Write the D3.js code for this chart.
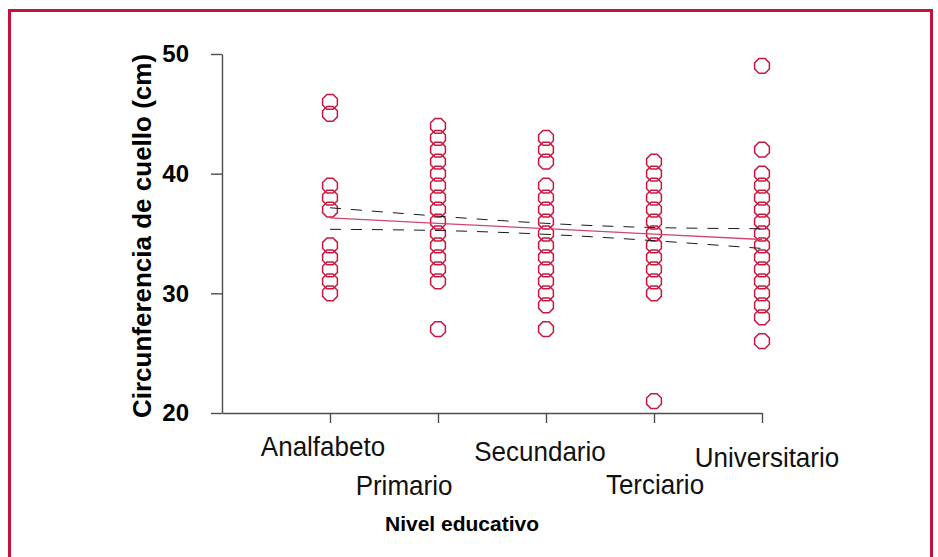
<!DOCTYPE html>
<html>
<head>
<meta charset="utf-8">
<script src="https://cdn.jsdelivr.net/npm/d3@7"></script>
<style>
  html, body { margin: 0; padding: 0; background: #fff; }
  svg { display: block; font-family: "Liberation Sans", Arial, sans-serif; }
</style>
</head>
<body>
<svg id="chart" width="938" height="557"></svg>
<script>
// Education level categories (x axis)
const categories = ["Analfabeto", "Primario", "Secundario", "Terciario", "Universitario"];

// Neck circumference observations (cm) per education level
const analfabeto = [46, 45, 39, 38, 37, 34, 33, 32, 31, 30];
const primario = [44, 43, 42, 41, 40, 39, 38, 37, 36, 35, 34, 33, 32, 31, 27];
const secundario = [43, 42, 41, 39, 38, 37, 36, 35, 34, 33, 32, 31, 30, 29, 27];
const terciario = [41, 40, 39, 38, 37, 36, 35, 34, 33, 32, 31, 30, 21];
const universitario = [49, 42, 40, 39, 38, 37, 36, 35, 34, 33, 32, 31, 30, 29, 28, 26];

// Fitted linear trend and its confidence limits at each level
const fitLine = [36.3, 35.85, 35.4, 34.95, 34.5];
const ciUpper = [37.15, 36.45, 35.85, 35.5, 35.4];
const ciLower = [35.35, 35.25, 34.93, 34.4, 33.75];

// Y axis ticks
const yTicks = [20, 30, 40, 50];

const seriesByLevel = [analfabeto, primario, secundario, terciario, universitario];

// Horizontal nudges for the staggered category labels and their baselines
const labelLayout = [
  { dx: -7, y: 456 },
  { dx: -34, y: 495 },
  { dx: -6, y: 461 },
  { dx: 1, y: 494 },
  { dx: 5, y: 467 }
];

const svg = d3.select("#chart");
const red = "#c8173f";

// Frame
svg.append("rect")
  .attr("x", 9.5).attr("y", 10.5)
  .attr("width", 922).attr("height", 560)
  .attr("fill", "none")
  .attr("stroke", "#c3123e")
  .attr("stroke-width", 3);

const x = d3.scaleLinear().domain([0, categories.length]).range([222, 762]);
const y = d3.scaleLinear().domain([20, 50]).range([413, 54]);

// Y axis
const yAxis = svg.append("g")
  .attr("transform", `translate(${x(0)},0)`)
  .call(d3.axisLeft(y).tickValues(yTicks).tickSize(11).tickSizeOuter(0).tickPadding(22));
yAxis.selectAll("path, line").attr("stroke", "#4d4d4d").attr("stroke-width", 1.4);
yAxis.selectAll("text")
  .attr("fill", "#000")
  .style("font-size", "24px")
  .style("font-weight", "bold")
  .style("font-family", "'Liberation Sans', Arial, sans-serif");

// X axis
const xAxis = svg.append("g")
  .attr("transform", `translate(0,${y(20)})`)
  .call(d3.axisBottom(x).tickValues(categories.map((c, i) => i + 1)).tickSize(10).tickSizeOuter(0).tickFormat(""));
xAxis.selectAll("path, line").attr("stroke", "#4d4d4d").attr("stroke-width", 1.4);

// Category labels
svg.append("g").selectAll("text")
  .data(categories)
  .join("text")
  .attr("transform", (d, i) => `translate(${x(i + 1) + labelLayout[i].dx},${labelLayout[i].y}) scale(1,1.08)`)
  .attr("text-anchor", "middle")
  .style("font-size", "26px")
  .attr("fill", "#111")
  .text(d => d);

// Axis titles
svg.append("text")
  .attr("x", 462).attr("y", 531)
  .attr("text-anchor", "middle")
  .style("font-size", "21px")
  .style("font-weight", "bold")
  .text("Nivel educativo");

svg.append("text")
  .attr("transform", "translate(151,236) rotate(-90)")
  .attr("text-anchor", "middle")
  .style("font-size", "26px")
  .style("font-weight", "bold")
  .text("Circunferencia de cuello (cm)");

// Octagonal open markers
const octR = 8;
const octagon = d3.line().curve(d3.curveLinearClosed)(
  d3.range(8).map(k => {
    const a = Math.PI / 8 + k * Math.PI / 4;
    return [octR * Math.cos(a), octR * Math.sin(a)];
  })
);

const points = seriesByLevel.flatMap((vals, i) => vals.map(v => ({ level: i + 1, value: v })));
svg.append("g").selectAll("path")
  .data(points)
  .join("path")
  .attr("d", octagon)
  .attr("transform", d => `translate(${x(d.level)},${y(d.value)})`)
  .attr("fill", "none")
  .attr("stroke", red)
  .attr("stroke-width", 1.5);

// Trend line and confidence limits
const lineGen = curve => d3.line()
  .x((d, i) => x(i + 1))
  .y(d => y(d))
  .curve(curve);

[ciUpper, ciLower].forEach(band => {
  svg.append("path")
    .attr("d", lineGen(d3.curveNatural)(band))
    .attr("fill", "none")
    .attr("stroke", "#1a1a1a")
    .attr("stroke-width", 1)
    .attr("stroke-dasharray", "11,10");
});

svg.append("path")
  .attr("d", lineGen(d3.curveLinear)(fitLine))
  .attr("fill", "none")
  .attr("stroke", "#d2456b")
  .attr("stroke-width", 1.3);
</script>
</body>
</html>
